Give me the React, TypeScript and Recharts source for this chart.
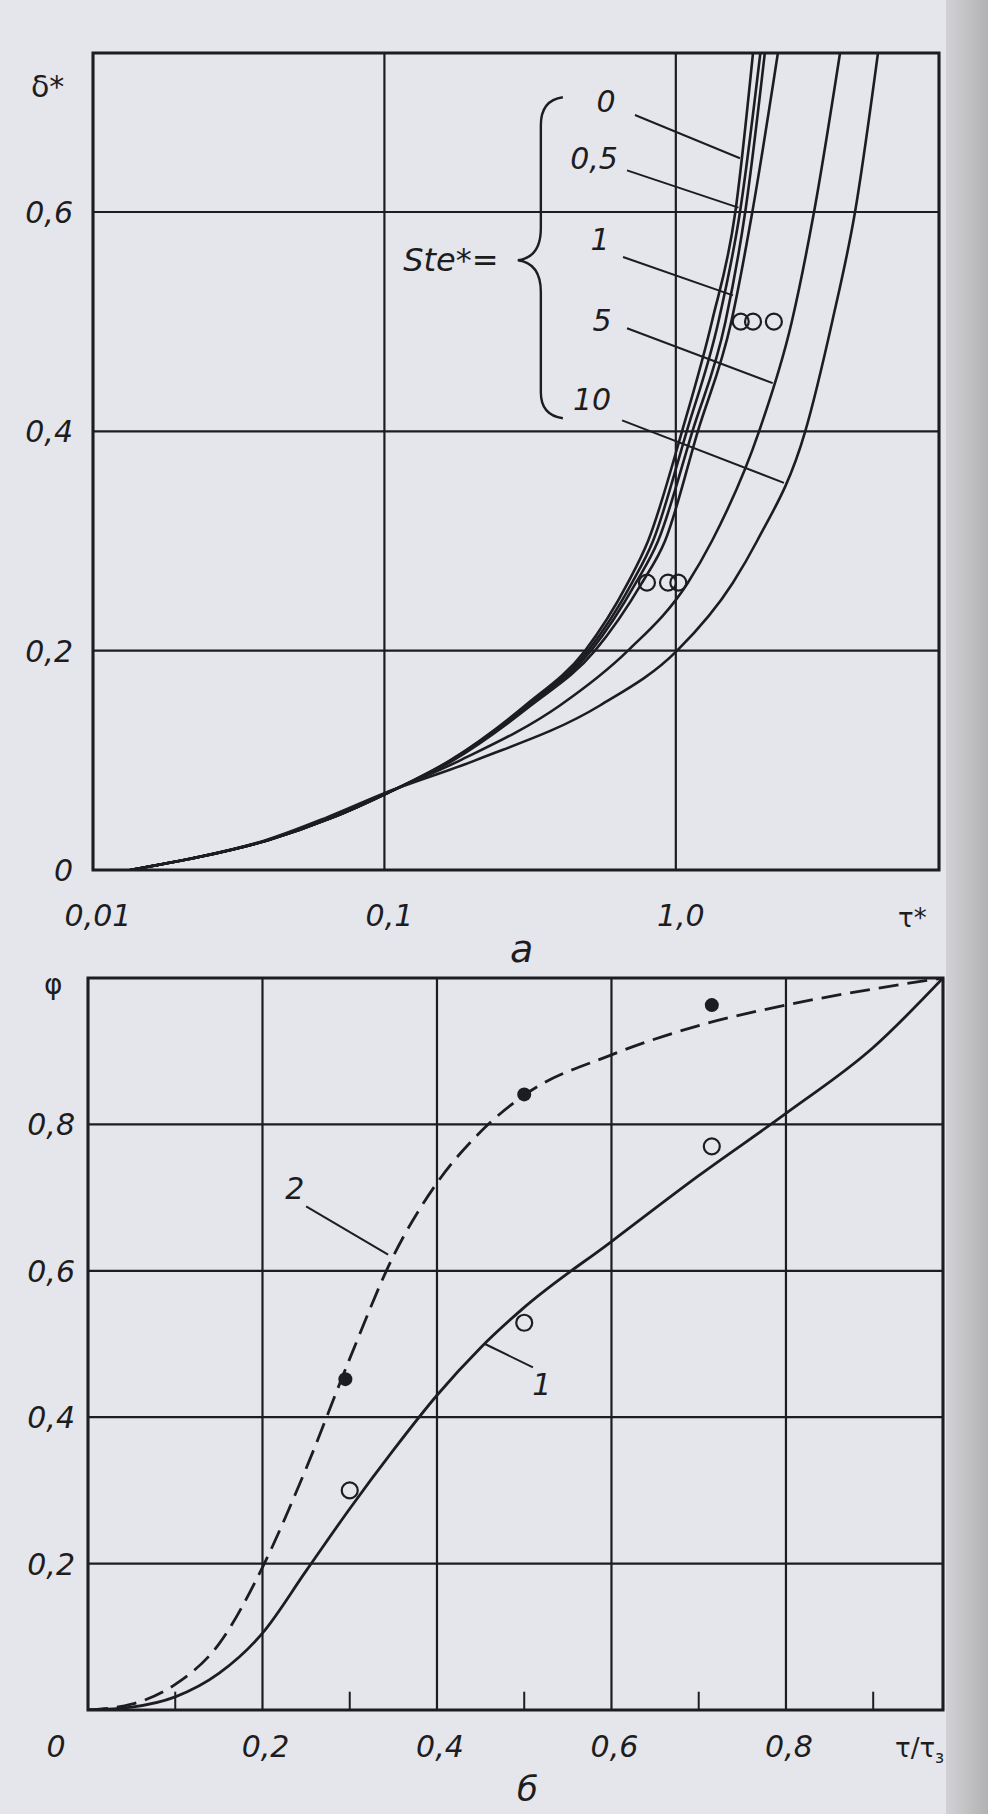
import React from "react";
import {
  ComposedChart,
  Line,
  Scatter,
  XAxis,
  YAxis,
  CartesianGrid,
  ReferenceArea,
  ReferenceLine,
  ReferenceDot,
} from "recharts";

const INK = "#1d1d21";
const BG = "#e5e5ec";
const FONT = "'DejaVu Sans', 'Liberation Sans', sans-serif";

// ---- chart а: δ* against τ* (log axis), one curve per Ste* ----
const deltaLevels = [0, 0.012, 0.027, 0.048, 0.07, 0.1, 0.15, 0.2, 0.262, 0.3, 0.4, 0.5, 0.6, 0.745];
const tauSte0 = [0.0134, 0.0233, 0.0396, 0.0666, 0.102, 0.168, 0.304, 0.488, 0.685, 0.803, 1.05, 1.33, 1.6, 1.84];
const tauSte05 = [0.0134, 0.0233, 0.0396, 0.0666, 0.102, 0.169, 0.309, 0.5, 0.708, 0.835, 1.09, 1.4, 1.66, 1.95];
const tauSte1 = [0.0134, 0.0233, 0.0396, 0.0666, 0.102, 0.171, 0.313, 0.512, 0.73, 0.869, 1.14, 1.48, 1.73, 2.02];
const tauExtra = [0.0134, 0.0233, 0.0396, 0.0666, 0.102, 0.172, 0.318, 0.528, 0.766, 0.918, 1.19, 1.55, 1.83, 2.24];
const tauSte5 = [0.0134, 0.0233, 0.0393, 0.0651, 0.101, 0.182, 0.4, 0.685, 1.1, 1.33, 1.93, 2.5, 2.98, 3.66];
const tauSte10 = [0.0134, 0.0231, 0.0389, 0.0635, 0.1, 0.205, 0.549, 1.01, 1.57, 1.9, 2.78, 3.44, 4.12, 4.94];

const expUpperTau = [1.67, 1.84, 2.17];
const expUpperDelta = [0.5, 0.5, 0.5];
const expLowerTau = [0.796, 0.94, 1.02];
const expLowerDelta = [0.262, 0.262, 0.262];

const steLabels = ["0", "0,5", "1", "5", "10"];
const steLabelTau = [0.576, 0.524, 0.549, 0.558, 0.516];
const steLabelDelta = [0.701, 0.649, 0.575, 0.501, 0.429];
const leaderFromTau = [0.724, 0.68, 0.659, 0.68, 0.654];
const leaderFromDelta = [0.6885, 0.638, 0.559, 0.494, 0.41];
const leaderToTau = [1.66, 1.64, 1.57, 2.15, 2.35];
const leaderToDelta = [0.649, 0.604, 0.524, 0.444, 0.353];

const tauTicks = [0.01, 0.1, 1];
const tauTickText = ["0,01", "0,1", "1,0"];
const deltaTicks = [0, 0.2, 0.4, 0.6];

// ---- chart б: φ against τ/τз ----
const relTime = [0, 0.05, 0.1, 0.15, 0.2, 0.25, 0.3, 0.35, 0.4, 0.45, 0.5, 0.6, 0.7, 0.8, 0.9, 0.98];
const phiCurve1 = [0, 0.004, 0.018, 0.05, 0.105, 0.19, 0.275, 0.355, 0.43, 0.495, 0.55, 0.64, 0.73, 0.815, 0.905, 1.0];
const phiCurve2 = [0, 0.008, 0.035, 0.09, 0.195, 0.33, 0.48, 0.62, 0.72, 0.79, 0.84, 0.895, 0.935, 0.963, 0.985, 1.0];

const openTime = [0.3, 0.5, 0.715];
const openPhi = [0.3, 0.529, 0.77];
const filledTime = [0.295, 0.5, 0.715];
const filledPhi = [0.452, 0.841, 0.963];

const relTicks = [0, 0.2, 0.4, 0.6, 0.8];
const relMinorTicks = [0.1, 0.3, 0.5, 0.7, 0.9];
const phiTicks = [0, 0.2, 0.4, 0.6, 0.8];

const toPoints = (xs: number[], ys: number[]) => xs.map((x, i) => ({ x, y: ys[i] }));
const comma = (v: number) => String(v).replace(".", ",");

const labelStyle = {
  fontFamily: FONT,
  fontStyle: "italic" as const,
  fill: INK,
};

const openCircle = (p: any) => (
  <circle cx={p.cx} cy={p.cy} r={8} fill="none" stroke={INK} strokeWidth={2.2} />
);
const filledCircle = (p: any) => <circle cx={p.cx} cy={p.cy} r={7} fill={INK} />;

const textAt = (text: string, size = 30) => (p: any) => (
  <text x={p.cx} y={p.cy} textAnchor="middle" dominantBaseline="central" fontSize={size} {...labelStyle}>
    {text}
  </text>
);

const brace = (p: any) => {
  const { cx, cy } = p;
  const d = `M ${cx + 45} ${cy - 163} Q ${cx + 23} ${cy - 160} ${cx + 23} ${cy - 135} L ${cx + 23} ${cy - 32} Q ${cx + 23} ${cy - 3} ${cx} ${cy} Q ${cx + 23} ${cy + 3} ${cx + 23} ${cy + 32} L ${cx + 23} ${cy + 132} Q ${cx + 23} ${cy + 155} ${cx + 45} ${cy + 158}`;
  return <path d={d} fill="none" stroke={INK} strokeWidth={2.4} />;
};

function Caption({ left, top, size, italic, children }: any) {
  return (
    <div
      style={{
        position: "absolute",
        left,
        top,
        fontSize: size,
        fontStyle: italic ? "italic" : "normal",
        fontFamily: FONT,
        color: INK,
        lineHeight: 1,
        whiteSpace: "nowrap",
      }}
    >
      {children}
    </div>
  );
}

function TopChart() {
  const curves = [tauSte0, tauSte05, tauSte1, tauExtra, tauSte5, tauSte10];
  return (
    <div style={{ position: "absolute", left: 0, top: 0 }}>
      <ComposedChart width={988} height={972} margin={{ top: 53, right: 49, bottom: 42, left: 33 }}>
        <CartesianGrid stroke={INK} strokeWidth={2.2} />
        <XAxis
          dataKey="x"
          type="number"
          scale="log"
          domain={[0.01, 8]}
          allowDataOverflow
          ticks={tauTicks}
          interval={0}
          height={60}
          tickSize={0}
          tickMargin={0}
          axisLine={false}
          tickLine={false}
          tick={(p: any) => (
            <text x={p.x + 5} y={p.y + 56} textAnchor="middle" fontSize={30} {...labelStyle}>
              {tauTickText[tauTicks.indexOf(p.payload.value)]}
            </text>
          )}
        />
        <YAxis
          type="number"
          domain={[0, 0.745]}
          allowDataOverflow
          ticks={deltaTicks}
          interval={0}
          width={60}
          tickSize={0}
          tickMargin={0}
          axisLine={false}
          tickLine={false}
          tick={(p: any) => (
            <text x={p.x - 20} y={p.y + 11} textAnchor="end" fontSize={30} {...labelStyle}>
              {comma(p.payload.value)}
            </text>
          )}
        />
        <ReferenceArea x1={0.01} x2={8} y1={0} y2={0.745} fill="none" stroke={INK} strokeWidth={3} />
        {curves.map((c, i) => (
          <Line
            key={i}
            data={toPoints(c, deltaLevels)}
            dataKey="y"
            type="monotone"
            stroke={INK}
            strokeWidth={2.6}
            dot={false}
            activeDot={false}
            isAnimationActive={false}
          />
        ))}
        <Scatter data={toPoints(expUpperTau, expUpperDelta)} dataKey="y" shape={openCircle} isAnimationActive={false} />
        <Scatter data={toPoints(expLowerTau, expLowerDelta)} dataKey="y" shape={openCircle} isAnimationActive={false} />
        {steLabels.map((s, i) => (
          <ReferenceLine
            key={"l" + i}
            segment={[
              { x: leaderFromTau[i], y: leaderFromDelta[i] },
              { x: leaderToTau[i], y: leaderToDelta[i] },
            ]}
            stroke={INK}
            strokeWidth={2}
          />
        ))}
        {steLabels.map((s, i) => (
          <ReferenceDot key={"t" + i} x={steLabelTau[i]} y={steLabelDelta[i]} r={0} shape={textAt(s)} />
        ))}
        <ReferenceDot x={0.169} y={0.556} r={0} shape={textAt("Ste*=", 32)} />
        <ReferenceDot x={0.287} y={0.556} r={0} shape={brace} />
      </ComposedChart>
    </div>
  );
}

function BottomChart() {
  return (
    <div style={{ position: "absolute", left: 0, top: 972 }}>
      <ComposedChart width={988} height={842} margin={{ top: 6, right: 45, bottom: 44, left: 28 }}>
        <CartesianGrid stroke={INK} strokeWidth={2.2} />
        <XAxis
          dataKey="x"
          type="number"
          domain={[0, 0.98]}
          allowDataOverflow
          ticks={relTicks}
          interval={0}
          height={60}
          tickSize={0}
          tickMargin={0}
          axisLine={false}
          tickLine={false}
          tick={(p: any) => (
            <text
              x={p.payload.value === 0 ? p.x - 32 : p.x + 3}
              y={p.y + 47}
              textAnchor="middle"
              fontSize={30}
              {...labelStyle}
            >
              {comma(p.payload.value)}
            </text>
          )}
        />
        <YAxis
          type="number"
          domain={[0, 1]}
          allowDataOverflow
          ticks={phiTicks}
          interval={0}
          width={60}
          tickSize={0}
          tickMargin={0}
          axisLine={false}
          tickLine={false}
          tick={(p: any) =>
            p.payload.value === 0 ? (
              <g />
            ) : (
              <text x={p.x - 13} y={p.y + 11} textAnchor="end" fontSize={30} {...labelStyle}>
                {comma(p.payload.value)}
              </text>
            )
          }
        />
        <ReferenceArea x1={0} x2={0.98} y1={0} y2={1} fill="none" stroke={INK} strokeWidth={3} />
        {relMinorTicks.map((t) => (
          <ReferenceLine
            key={t}
            segment={[
              { x: t, y: 0 },
              { x: t, y: 0.025 },
            ]}
            stroke={INK}
            strokeWidth={2}
          />
        ))}
        <Line
          data={toPoints(relTime, phiCurve1)}
          dataKey="y"
          type="monotone"
          stroke={INK}
          strokeWidth={2.8}
          dot={false}
          activeDot={false}
          isAnimationActive={false}
        />
        <Line
          data={toPoints(relTime, phiCurve2)}
          dataKey="y"
          type="monotone"
          stroke={INK}
          strokeWidth={2.8}
          strokeDasharray="20 9"
          dot={false}
          activeDot={false}
          isAnimationActive={false}
        />
        <Scatter data={toPoints(openTime, openPhi)} dataKey="y" shape={openCircle} isAnimationActive={false} />
        <Scatter data={toPoints(filledTime, filledPhi)} dataKey="y" shape={filledCircle} isAnimationActive={false} />
        <ReferenceLine
          segment={[
            { x: 0.25, y: 0.688 },
            { x: 0.344, y: 0.622 },
          ]}
          stroke={INK}
          strokeWidth={2}
        />
        <ReferenceLine
          segment={[
            { x: 0.51, y: 0.468 },
            { x: 0.455, y: 0.5 },
          ]}
          stroke={INK}
          strokeWidth={2}
        />
        <ReferenceDot x={0.237} y={0.712} r={0} shape={textAt("2")} />
        <ReferenceDot x={0.52} y={0.444} r={0} shape={textAt("1")} />
      </ComposedChart>
    </div>
  );
}

export default function App() {
  return (
    <div
      style={{
        position: "absolute",
        left: 0,
        top: 0,
        width: 988,
        height: 1814,
        background: BG,
        overflow: "hidden",
      }}
    >
      <TopChart />
      <BottomChart />
      <Caption left={31} top={72} size={30}>δ*</Caption>
      <Caption left={898} top={905} size={26}>τ*</Caption>
      <Caption left={510} top={930} size={38} italic>а</Caption>
      <Caption left={44} top={971} size={28}>φ</Caption>
      <Caption left={895} top={1735} size={26}>
        τ/τ<span style={{ fontSize: 17, verticalAlign: "-0.35em" }}>з</span>
      </Caption>
      <Caption left={517} top={1772} size={34} italic>б</Caption>
      <div
        style={{
          position: "absolute",
          left: 946,
          top: 0,
          width: 42,
          height: 1814,
          background: "linear-gradient(to right, #d2d2d6, #b2b2b4)",
        }}
      />
    </div>
  );
}
